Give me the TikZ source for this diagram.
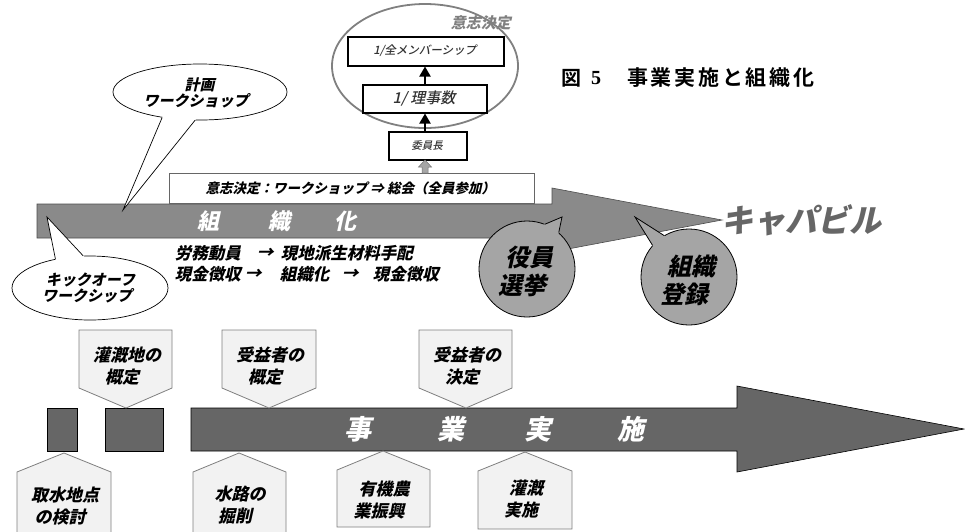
\documentclass[tikz,border=0pt]{standalone}
\usepackage{fontspec}
\IfFontExistsTF{Noto Sans CJK JP Black}
  {\newfontfamily\jph{Noto Sans CJK JP Black}}
  {\IfFontExistsTF{Noto Sans CJK JP Bold}
     {\newfontfamily\jph{Noto Sans CJK JP Bold}}
     {\newfontfamily\jph[FakeBold=2.5]{Noto Sans CJK JP}}}
\IfFontExistsTF{Noto Sans CJK JP Bold}
  {\newfontfamily\jpt{Noto Sans CJK JP Bold}}
  {\newfontfamily\jpt[FakeBold=2]{Noto Sans CJK JP}}
\IfFontExistsTF{Noto Sans CJK JP Medium}
  {\newfontfamily\jpm{Noto Sans CJK JP Medium}}
  {\newfontfamily\jpm{Noto Sans CJK JP}}
\newfontfamily\sernum{Liberation Serif}
\usetikzlibrary{arrows.meta,shapes.geometric,calc}
\definecolor{topgray}{HTML}{8A8A8A}
\definecolor{botgray}{HTML}{666666}
\definecolor{circfill}{HTML}{A5A5A5}
\definecolor{callfill}{HTML}{F2F2F2}
\definecolor{callline}{HTML}{7F7F7F}
\definecolor{ellgray}{HTML}{808080}
\definecolor{capgray}{HTML}{666666}
\begin{document}
\begin{tikzpicture}[x=1pt,y=-1pt,
  it/.style={xslant=0.22},
  callbox/.style={fill=callfill,draw=callline,line width=0.8pt},
  ctext/.style={it,font=\jph\fontsize{17}{22}\selectfont,align=center,text=black,inner sep=0pt},
  bubble/.style={ellipse,fill=white,draw=black,line width=0.7pt},
  btext/.style={it,font=\jph\fontsize{15}{16}\selectfont,align=center,inner sep=0pt},
  circlab/.style={circle,fill=circfill,draw=black,line width=0.8pt,minimum size=96pt,inner sep=0pt},
  circtext/.style={it,font=\jph\fontsize{24}{28}\selectfont,align=center,inner sep=0pt},
  orgchar/.style={it,font=\jph\fontsize{22}{22}\selectfont,text=white,inner sep=0pt},
  projchar/.style={it,font=\jph\fontsize{27}{27}\selectfont,text=white,inner sep=0pt},
  orgbox/.style={draw=black,line width=2pt,fill=white,inner sep=0pt},
  orgtext/.style={it,inner sep=0pt,text=black!80},
  labtext/.style={it,font=\jph\fontsize{16.5}{17}\selectfont,anchor=west,inner sep=0pt},
  uparrow/.style={line width=2pt,-{Triangle[width=11pt,length=10pt]}}
]
\useasboundingbox (0,0) rectangle (965,531);

% ---------- decision structure ----------
\draw[ellgray,line width=1.8pt] (425,66) ellipse [x radius=93, y radius=62];
\node[it,font=\jph\fontsize{15}{15}\selectfont,text=ellgray,inner sep=0pt] (ishilab) at (482,23) {意志決定};
\node[orgbox,minimum width=156pt,minimum height=29pt] (allm) at (425.5,51) {};
\node[orgtext,font=\jpm\fontsize{11.5}{12}\selectfont] (allmt) at (allm) {1/全メンバーシップ};
\node[orgbox,minimum width=124pt,minimum height=28pt] (riji) at (425,98.5) {};
\node[orgtext,font=\jpm\fontsize{15}{15}\selectfont] (rijit) at (riji) {1/ 理事数};
\node[orgbox,minimum width=78pt,minimum height=28pt] (iin) at (428,146) {};
\node[orgtext,font=\jpm\fontsize{10.5}{11}\selectfont] (iint) at (iin) {委員長};
\draw[uparrow] (iin.north -| 425,0) -- (riji.south -| 425,0);
\draw[uparrow] (riji.north -| 425,0) -- (allm.south -| 425,0);

% ---------- top arrow (organisation) ----------
\draw[fill=topgray,draw=black!70,line width=0.6pt]
  (37,204) -- (552,204) -- (552,188) -- (722,220) -- (552,252) -- (552,238) -- (37,238) -- cycle;
\node[draw=black!60,fill=white,line width=0.6pt,minimum width=365pt,minimum height=30pt,inner sep=0pt] (decbox) at (351.5,188) {};
\node[it,font=\jph\fontsize{13.5}{14}\selectfont,inner sep=0pt] (dectxt) at (decbox) {意志決定：ワークショップ ⇒ 総会（全員参加）};
% small gray arrow
\draw[fill=black!35,draw=black!55,line width=0.5pt]
  (422,173) -- (422,167) -- (418.5,167) -- (425,160) -- (431.5,167) -- (428,167) -- (428,173) -- cycle;

\node[orgchar] (o1) at (210,221) {組};
\node[orgchar] (o2) at (281,221) {織};
\node[orgchar] (o3) at (347,221) {化};

\node[it,font=\jph\fontsize{32}{32}\selectfont,text=capgray,anchor=west,inner sep=0pt] (capa) at (724,220) {キャパビル};

% labour / cash lines
\node[labtext] (l1a) at (176,253) {労務動員};
\node[labtext] (l1b) at (258,253) {→};
\node[labtext] (l1c) at (282,253) {現地派生材料手配};
\node[labtext] (l2a) at (176,274) {現金徴収};
\node[labtext] (l2b) at (246,274) {→};
\node[labtext] (l2c) at (281,274) {組織化};
\node[labtext] (l2d) at (343,274) {→};
\node[labtext] (l2e) at (374,274) {現金徴収};

% ---------- title ----------
\node[font=\jpt\fontsize{20}{20}\selectfont,anchor=west,inner sep=0pt] (t1) at (561,78) {図};
\node[font=\sernum\bfseries\fontsize{20}{20}\selectfont,anchor=west,inner sep=0pt] (t2) at (591,78.5) {5};
\node[font=\jpt\fontsize{21}{21}\selectfont\addfontfeature{LetterSpace=13},anchor=west,inner sep=0pt] (t3) at (627,78) {事業実施と組織化};

% ---------- speech bubbles ----------
\node[bubble,minimum width=174pt,minimum height=56pt] (plan) at (200,92) {};
\coordinate (plantip) at (123,210);
\fill[white] (plantip) -- ($(plan.214)!-0.15!(plantip)$) -- ($(plan.260)!-0.15!(plantip)$) -- cycle;
\draw[line width=0.7pt] (plan.214) -- (plantip) -- (plan.260);
\node[btext] (plantxt) at (199,93) {計画\\ワークショップ};

\node[bubble,minimum width=156pt,minimum height=64pt] (kick) at (90,288) {};
\coordinate (kicktip) at (47,217);
\fill[white] (kicktip) -- ($(kick.140)!-0.15!(kicktip)$) -- ($(kick.102)!-0.15!(kicktip)$) -- cycle;
\draw[line width=0.7pt] (kick.140) -- (kicktip) -- (kick.102);
\node[btext] (kicktxt) at (90,288) {キックオーフ\\ワークシップ};

% ---------- circles ----------
\node[circlab] (yakuin) at (527,269) {};
\coordinate (yaktip) at (562,217);
\fill[circfill] (yaktip) -- ($(yakuin.68)!-0.3!(yaktip)$) -- ($(yakuin.49)!-0.3!(yaktip)$) -- cycle;
\draw[line width=0.8pt] (yakuin.68) -- (yaktip) -- (yakuin.49);
\node[circtext] (yaktxt) at (528,271) {役員\\選挙};

\node[circlab] (touroku) at (689,277) {};
\coordinate (tourtip) at (635,217);
\fill[circfill] (tourtip) -- ($(touroku.139)!-0.25!(tourtip)$) -- ($(touroku.121)!-0.25!(tourtip)$) -- cycle;
\draw[line width=0.8pt] (touroku.139) -- (tourtip) -- (touroku.121);
\node[circtext] (tourtxt) at (690,280) {組織\\登録};

% ---------- bottom arrow (project) ----------
\draw[fill=botgray,draw=black,line width=0.6pt] (47,408) rectangle (77,451);
\draw[fill=botgray,draw=black,line width=0.6pt] (105,408) rectangle (163,451);
\draw[fill=botgray,draw=black,line width=0.6pt]
  (191,408) -- (737,408) -- (737,386) -- (964,429) -- (737,472) -- (737,451) -- (191,451) -- cycle;
\node[projchar] (p1) at (360,429) {事};
\node[projchar] (p2) at (453,429) {業};
\node[projchar] (p3) at (540,429) {実};
\node[projchar] (p4) at (633,429) {施};

% down-pointing callouts
\draw[callbox] (79,330) -- (172,330) -- (172,388) -- (126,408) -- (79,388) -- cycle;
\node[ctext] (c1) at (126,366) {灌漑地の\\概定};
\draw[callbox] (222,330) -- (316,330) -- (316,388) -- (269,408) -- (222,388) -- cycle;
\node[ctext] (c2) at (269,366) {受益者の\\概定};
\draw[callbox] (419,330) -- (512,330) -- (512,388) -- (466,408) -- (419,388) -- cycle;
\node[ctext] (c3) at (466,366) {受益者の\\決定};

% up-pointing callouts
\draw[callbox] (17,534) -- (17,472) -- (64,453) -- (111,472) -- (111,534) -- cycle;
\node[ctext] (u1) at (64,506) {取水地点\\の検討};
\draw[callbox] (193,534) -- (193,472) -- (239,453) -- (286,472) -- (286,534) -- cycle;
\node[ctext] (u2) at (239,505) {水路の\\掘削};
\draw[callbox] (337,527) -- (337,470) -- (383,451) -- (430,470) -- (430,527) -- cycle;
\node[ctext] (u3) at (383,500) {有機農\\業振興};
\draw[callbox] (478,529) -- (478,471) -- (525,452) -- (572,471) -- (572,529) -- cycle;
\node[ctext] (u4) at (525,499) {灌漑\\実施};
\end{tikzpicture}
\end{document}
